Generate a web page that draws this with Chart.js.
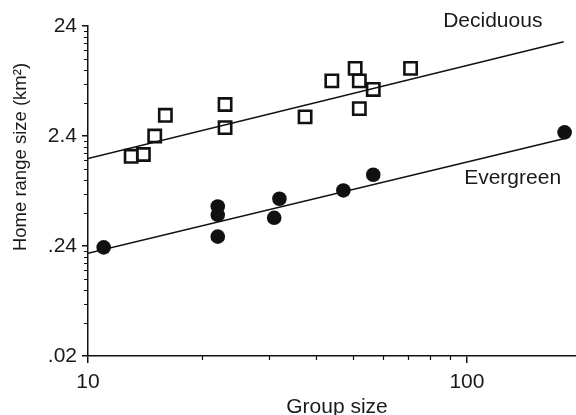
<!DOCTYPE html>
<html>
<head>
<meta charset="utf-8">
<script src="https://cdn.jsdelivr.net/npm/chart.js@4.4.1/dist/chart.umd.min.js"></script>
<style>
  body { margin: 0; background: #fff; }
</style>
</head>
<body>
<canvas id="chart" width="576" height="415"></canvas>
<script>
// Group size (x) and home range size in km2 (y)
const deciduousX = [13, 14, 15, 16, 23, 23, 37.4, 44, 50.7, 52, 52, 56.6, 71];
const deciduousY = [1.57, 1.63, 2.4, 3.7, 4.64, 2.86, 3.58, 7.61, 9.88, 7.61, 4.26, 6.36, 9.88];

const evergreenX = [11, 22, 22, 22, 31, 32, 47.2, 56.6, 181];
const evergreenY = [0.233, 0.549, 0.461, 0.292, 0.433, 0.645, 0.768, 1.067, 2.59];

// Fitted lines (end points)
const fitX = [10, 180];
const deciduousFitY = [1.494, 17.26];
const evergreenFitY = [0.206, 2.27];

// Series labels placed in data units
const seriesNames = ['Deciduous', 'Evergreen'];
const seriesLabelX = [117, 132];
const seriesLabelY = [26.7, 1.0];

// Axis ticks
const xTicks = [10, 100];
const xTickLabels = ['10', '100'];
const xMinor = [20, 30, 40, 50, 60, 70, 80, 90];
const yTicks = [0.024, 0.24, 2.4, 24];
const yTickLabels = ['.02', '.24', '2.4', '24'];

const ink = '#111';
Chart.defaults.font.family = "'Liberation Sans', Arial, sans-serif";
Chart.defaults.font.size = 21;
Chart.defaults.color = '#1a1a1a';

const toPoints = (xs, ys) => xs.map((x, i) => ({ x: x, y: ys[i] }));

// y minor ticks: 2..9 times each decade start
const yMinor = [];
yTicks.slice(0, -1).forEach(b => {
  for (let m = 2; m <= 9; m++) yMinor.push(b * m);
});

const extras = {
  id: 'extras',
  afterDraw(chart) {
    const { ctx, chartArea, scales: { x, y } } = chart;
    ctx.save();
    ctx.strokeStyle = ink;
    ctx.lineWidth = 1.2;
    ctx.beginPath();
    xMinor.forEach(v => {
      const px = Math.round(x.getPixelForValue(v)) + 0.5;
      ctx.moveTo(px, chartArea.bottom);
      ctx.lineTo(px, chartArea.bottom + 4);
    });
    yMinor.forEach(v => {
      const py = Math.round(y.getPixelForValue(v)) + 0.5;
      ctx.moveTo(chartArea.left, py);
      ctx.lineTo(chartArea.left - 4, py);
    });
    ctx.stroke();

    ctx.fillStyle = '#1a1a1a';
    ctx.font = "21px 'Liberation Sans', Arial, sans-serif";
    ctx.textAlign = 'center';
    ctx.textBaseline = 'middle';
    seriesNames.forEach((name, i) => {
      ctx.fillText(name, x.getPixelForValue(seriesLabelX[i]), y.getPixelForValue(seriesLabelY[i]));
    });

    // axis titles
    ctx.fillText('Group size', (chartArea.left + chartArea.right) / 2 + 5, chartArea.bottom + 51);
    ctx.translate(21, (chartArea.top + chartArea.bottom) / 2 - 34);
    ctx.rotate(-Math.PI / 2);
    ctx.font = "18.5px 'Liberation Sans', Arial, sans-serif";
    ctx.fillText('Home range size (km²)', 0, 0);
    ctx.restore();
  }
};

new Chart(document.getElementById('chart'), {
  type: 'scatter',
  data: {
    datasets: [
      {
        label: 'Deciduous fit',
        data: toPoints(fitX, deciduousFitY),
        showLine: true,
        borderColor: ink,
        borderWidth: 1.5,
        pointRadius: 0
      },
      {
        label: 'Evergreen fit',
        data: toPoints(fitX, evergreenFitY),
        showLine: true,
        borderColor: ink,
        borderWidth: 1.5,
        pointRadius: 0
      },
      {
        label: 'Deciduous',
        data: toPoints(deciduousX, deciduousY),
        pointStyle: 'rect',
        pointRadius: 8.7,
        borderWidth: 2.6,
        borderColor: ink,
        backgroundColor: 'rgba(255,255,255,0)'
      },
      {
        label: 'Evergreen',
        data: toPoints(evergreenX, evergreenY),
        pointStyle: 'circle',
        pointRadius: 7.3,
        borderWidth: 0,
        backgroundColor: ink
      }
    ]
  },
  options: {
    responsive: false,
    animation: false,
    devicePixelRatio: 1,
    layout: { autoPadding: false, padding: { top: 26, right: 0, bottom: 0, left: 0 } },
    plugins: { legend: { display: false }, tooltip: { enabled: false } },
    scales: {
      x: {
        type: 'logarithmic',
        min: 10,
        max: 194,
        afterBuildTicks: s => { s.ticks = xTicks.map(v => ({ value: v })); },
        afterFit: s => { s.height = 59; s.paddingRight = 0; s.paddingLeft = 0; },
        ticks: {
          padding: 7,
          maxRotation: 0,
          autoSkip: false,
          callback: (v, i) => xTickLabels[i]
        },
        grid: { drawOnChartArea: false, color: ink, lineWidth: 1.5, tickLength: 7 },
        border: { color: ink, width: 1.5 }
      },
      y: {
        type: 'logarithmic',
        min: 0.024,
        max: 24,
        afterBuildTicks: s => { s.ticks = yTicks.map(v => ({ value: v })); },
        afterFit: s => { s.width = 88; },
        ticks: {
          padding: 5,
          autoSkip: false,
          callback: (v, i) => yTickLabels[i]
        },
        grid: { drawOnChartArea: false, color: ink, lineWidth: 1.5, tickLength: 6 },
        border: { color: ink, width: 1.5 }
      }
    }
  },
  plugins: [extras]
});
</script>
</body>
</html>
